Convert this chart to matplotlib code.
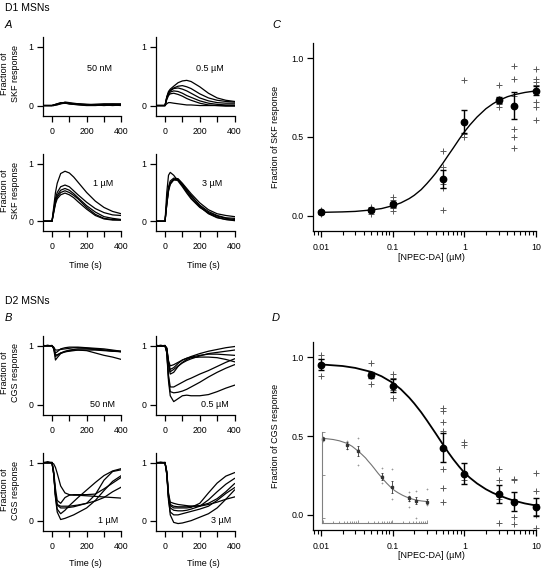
import matplotlib
matplotlib.use('Agg')
import matplotlib.pyplot as plt
from matplotlib.ticker import LogLocator, NullFormatter

plt.rcParams['font.family'] = ['Liberation Sans', 'DejaVu Sans']

# time axis of the traces (s)
t_pts = [-50, -25, 0, 10, 20, 30, 50, 75, 100, 125, 150, 200, 250, 300, 350, 400]

# D1 MSNs, fraction of SKF response
skf_50nM = [
    [0, 0, 0, 0.01, 0.02, 0.03, 0.05, 0.05, 0.04, 0.03, 0.03, 0.02, 0.02, 0.02, 0.02, 0.02],
    [0, 0, 0, 0.01, 0.01, 0.02, 0.04, 0.04, 0.03, 0.03, 0.02, 0.01, 0.01, 0.01, 0.02, 0.01],
    [0, 0, 0, 0.0, 0.01, 0.02, 0.03, 0.06, 0.05, 0.04, 0.03, 0.02, 0.01, 0.0, 0.01, 0.0],
    [0, 0, 0, 0.0, 0.01, 0.01, 0.03, 0.04, 0.03, 0.02, 0.02, 0.01, 0.02, 0.03, 0.03, 0.03],
    [0, 0, 0, 0.01, 0.02, 0.03, 0.04, 0.05, 0.03, 0.02, 0.01, 0.0, 0.0, 0.01, 0.0, 0.01],
]
skf_05uM = [
    [0, 0, 0, 0.15, 0.24, 0.28, 0.33, 0.39, 0.42, 0.43, 0.41, 0.32, 0.21, 0.13, 0.09, 0.07],
    [0, 0, 0, 0.14, 0.22, 0.26, 0.30, 0.33, 0.34, 0.32, 0.29, 0.20, 0.13, 0.09, 0.07, 0.06],
    [0, 0, 0, 0.13, 0.21, 0.25, 0.29, 0.30, 0.28, 0.25, 0.21, 0.13, 0.08, 0.05, 0.04, 0.04],
    [0, 0, 0, 0.12, 0.19, 0.23, 0.25, 0.24, 0.21, 0.17, 0.14, 0.08, 0.04, 0.02, 0.01, 0.01],
    [0, 0, 0, 0.10, 0.17, 0.20, 0.21, 0.19, 0.16, 0.12, 0.09, 0.04, 0.01, 0.0, -0.01, -0.01],
    [0, 0, 0, 0.03, 0.05, 0.05, 0.04, 0.03, 0.02, 0.01, 0.01, 0.0, 0.0, 0.0, 0.0, 0.0],
]
skf_1uM = [
    [0, 0, 0, 0.25, 0.50, 0.66, 0.83, 0.87, 0.84, 0.77, 0.68, 0.50, 0.35, 0.24, 0.17, 0.13],
    [0, 0, 0, 0.20, 0.40, 0.50, 0.60, 0.63, 0.60, 0.53, 0.46, 0.33, 0.22, 0.15, 0.11, 0.10],
    [0, 0, 0, 0.18, 0.35, 0.45, 0.54, 0.57, 0.54, 0.48, 0.41, 0.27, 0.16, 0.08, 0.05, 0.03],
    [0, 0, 0, 0.17, 0.33, 0.42, 0.50, 0.53, 0.50, 0.45, 0.39, 0.24, 0.12, 0.05, 0.03, 0.02],
    [0, 0, 0, 0.15, 0.30, 0.39, 0.46, 0.49, 0.46, 0.41, 0.34, 0.21, 0.10, 0.04, 0.02, 0.02],
]
skf_3uM = [
    [0, 0, 0, 0.50, 0.80, 0.85, 0.80, 0.70, 0.60, 0.49, 0.39, 0.24, 0.15, 0.09, 0.05, 0.03],
    [0, 0, 0, 0.35, 0.60, 0.70, 0.75, 0.74, 0.66, 0.57, 0.48, 0.32, 0.20, 0.13, 0.10, 0.08],
    [0, 0, 0, 0.30, 0.55, 0.67, 0.73, 0.72, 0.63, 0.53, 0.44, 0.28, 0.17, 0.10, 0.06, 0.05],
    [0, 0, 0, 0.30, 0.55, 0.66, 0.72, 0.71, 0.62, 0.51, 0.41, 0.25, 0.13, 0.06, 0.03, 0.02],
    [0, 0, 0, 0.28, 0.52, 0.64, 0.72, 0.73, 0.65, 0.55, 0.45, 0.27, 0.14, 0.07, 0.03, 0.01],
]

# D2 MSNs, fraction of CGS response
cgs_50nM = [
    [1, 1.01, 1, 0.95, 0.76, 0.80, 0.87, 0.90, 0.92, 0.93, 0.93, 0.92, 0.88, 0.84, 0.81, 0.77],
    [1, 1, 1.01, 0.97, 0.88, 0.90, 0.95, 0.97, 0.98, 0.98, 0.98, 0.97, 0.96, 0.95, 0.93, 0.91],
    [1.01, 1, 1, 0.96, 0.85, 0.85, 0.88, 0.91, 0.93, 0.94, 0.95, 0.95, 0.94, 0.93, 0.92, 0.90],
    [1, 1, 1, 0.98, 0.93, 0.93, 0.94, 0.95, 0.96, 0.97, 0.97, 0.96, 0.95, 0.93, 0.91, 0.90],
    [1, 1.01, 1, 0.96, 0.82, 0.84, 0.88, 0.90, 0.91, 0.92, 0.93, 0.93, 0.93, 0.92, 0.91, 0.91],
]
cgs_05uM = [
    [1, 1.01, 1, 0.97, 0.75, 0.66, 0.68, 0.72, 0.76, 0.79, 0.82, 0.87, 0.91, 0.94, 0.97, 0.99],
    [1, 1, 1.01, 0.95, 0.70, 0.56, 0.60, 0.66, 0.71, 0.75, 0.78, 0.83, 0.87, 0.89, 0.91, 0.93],
    [1.01, 1, 1, 0.96, 0.72, 0.60, 0.63, 0.70, 0.76, 0.79, 0.81, 0.84, 0.86, 0.86, 0.85, 0.84],
    [1, 1, 1, 0.95, 0.68, 0.52, 0.55, 0.65, 0.72, 0.77, 0.80, 0.81, 0.81, 0.80, 0.77, 0.73],
    [1, 1.01, 1, 0.90, 0.50, 0.30, 0.30, 0.34, 0.38, 0.42, 0.45, 0.52, 0.58, 0.65, 0.72, 0.78],
    [1, 1, 1, 0.90, 0.45, 0.22, 0.20, 0.21, 0.23, 0.26, 0.30, 0.38, 0.47, 0.55, 0.62, 0.68],
    [1.01, 1, 1, 0.88, 0.40, 0.15, 0.05, 0.10, 0.15, 0.16, 0.15, 0.15, 0.17, 0.22, 0.28, 0.33],
]
cgs_1uM = [
    [1, 1.02, 1, 0.98, 0.92, 0.82, 0.60, 0.48, 0.45, 0.44, 0.44, 0.43, 0.42, 0.41, 0.40, 0.39],
    [1, 1, 1.01, 0.80, 0.40, 0.15, 0.02, 0.04, 0.07, 0.10, 0.14, 0.22, 0.35, 0.52, 0.68, 0.78],
    [1.01, 1, 1, 0.80, 0.42, 0.20, 0.12, 0.18, 0.26, 0.33, 0.40, 0.53, 0.66, 0.78, 0.86, 0.90],
    [1, 1, 1, 0.80, 0.45, 0.28, 0.25, 0.25, 0.25, 0.26, 0.27, 0.30, 0.45, 0.70, 0.85, 0.88],
    [1, 1.01, 1, 0.82, 0.45, 0.27, 0.22, 0.22, 0.23, 0.24, 0.26, 0.30, 0.34, 0.40, 0.50, 0.58],
    [1, 1, 1, 0.85, 0.55, 0.35, 0.30, 0.40, 0.44, 0.45, 0.45, 0.45, 0.46, 0.55, 0.65, 0.75],
]
cgs_3uM = [
    [1, 1.01, 1, 0.85, 0.40, 0.10, -0.03, -0.05, -0.04, -0.02, 0.0, 0.06, 0.12, 0.22, 0.37, 0.53],
    [1, 1, 1.01, 0.80, 0.35, 0.15, 0.10, 0.10, 0.12, 0.14, 0.16, 0.20, 0.25, 0.35, 0.47, 0.57],
    [1.01, 1, 1, 0.80, 0.40, 0.22, 0.18, 0.17, 0.17, 0.18, 0.20, 0.25, 0.36, 0.50, 0.63, 0.73],
    [1, 1, 1, 0.82, 0.42, 0.26, 0.22, 0.22, 0.22, 0.22, 0.23, 0.30, 0.48, 0.65, 0.77, 0.83],
    [1, 1.01, 1, 0.85, 0.48, 0.32, 0.30, 0.28, 0.27, 0.26, 0.25, 0.25, 0.28, 0.32, 0.37, 0.41],
    [1, 1, 1, 0.83, 0.45, 0.28, 0.25, 0.24, 0.24, 0.24, 0.25, 0.26, 0.30, 0.38, 0.50, 0.64],
]

# concentration-response data
conc = [0.01, 0.05, 0.1, 0.5, 1, 3, 5, 10]
skf_mean = [0.023, 0.036, 0.074, 0.233, 0.598, 0.734, 0.698, 0.793]
skf_sem = [0.01, 0.01, 0.017, 0.055, 0.07, 0.02, 0.085, 0.03]
skf_cells = [
    [0.01, 0.02, 0.03, 0.04],
    [0.015, 0.03, 0.04, 0.055],
    [0.03, 0.05, 0.07, 0.10, 0.12],
    [0.04, 0.18, 0.20, 0.31, 0.41],
    [0.50, 0.52, 0.86],
    [0.69, 0.71, 0.74, 0.83],
    [0.43, 0.50, 0.55, 0.76, 0.87, 0.95],
    [0.61, 0.69, 0.72, 0.79, 0.83, 0.85, 0.87, 0.93],
]
cgs_mean = [0.951, 0.887, 0.819, 0.427, 0.261, 0.134, 0.085, 0.051]
cgs_sem = [0.034, 0.017, 0.04, 0.094, 0.067, 0.056, 0.06, 0.058]
cgs_cells = [
    [0.88, 0.96, 0.99, 1.01],
    [0.83, 0.88, 0.96],
    [0.74, 0.79, 0.87, 0.89],
    [0.08, 0.17, 0.29, 0.53, 0.59, 0.66, 0.68],
    [0.22, 0.44, 0.46],
    [-0.05, 0.10, 0.13, 0.22, 0.29],
    [-0.06, -0.01, 0.10, 0.22, 0.23],
    [-0.085, 0.0, 0.07, 0.15, 0.265],
]
inset_mean = [0.926, 0.848, 0.782, 0.478, 0.362, 0.226, 0.198, 0.187]
inset_sem = [0.02, 0.04, 0.06, 0.04, 0.07, 0.03, 0.04, 0.03]
inset_cells = [
    [0.90, 0.95],
    [0.80, 0.86, 0.90],
    [0.62, 0.80, 0.93],
    [0.40, 0.50, 0.58],
    [0.22, 0.35, 0.57],
    [0.12, 0.20, 0.25, 0.30],
    [-0.01, 0.18, 0.31],
    [0.15, 0.20, 0.34],
]

# fitted curves
fit_x = [0.01, 0.02, 0.03, 0.05, 0.07, 0.1, 0.13, 0.17, 0.2, 0.25, 0.3, 0.35, 0.4, 0.5, 0.6, 0.7, 0.85,
         1, 1.2, 1.5, 2, 2.5, 3, 4, 5, 7, 10]
skf_fit = [0.023, 0.026, 0.029, 0.038, 0.047, 0.065, 0.083, 0.11, 0.131, 0.167, 0.205, 0.24, 0.272,
           0.333, 0.386, 0.43, 0.487, 0.532, 0.577, 0.626, 0.679, 0.71, 0.731, 0.755, 0.768, 0.782, 0.792]
cgs_fit = [0.953, 0.943, 0.931, 0.906, 0.878, 0.837, 0.796, 0.743, 0.706, 0.65, 0.599, 0.554, 0.515,
           0.448, 0.395, 0.353, 0.305, 0.268, 0.235, 0.2, 0.163, 0.14, 0.125, 0.104, 0.09, 0.073, 0.06]
inset_fit = [0.93, 0.915, 0.9, 0.87, 0.835, 0.785, 0.745, 0.7, 0.665, 0.62, 0.58, 0.545, 0.515, 0.47,
             0.432, 0.402, 0.368, 0.34, 0.315, 0.29, 0.262, 0.244, 0.232, 0.215, 0.205, 0.195, 0.188]

W, H = 541, 568
fig = plt.figure(figsize=(W / 100, H / 100), dpi=100)


def box(x0, y0, x1, y1):
    return fig.add_axes([x0 / W, 1 - y1 / H, (x1 - x0) / W, (y1 - y0) / H])


def style(ax):
    ax.spines['top'].set_visible(False)
    ax.spines['right'].set_visible(False)
    ax.spines['left'].set_linewidth(0.9)
    ax.spines['bottom'].set_linewidth(0.9)
    ax.tick_params(direction='out', length=4, width=0.9, labelsize=6.3)
    ax.tick_params(axis='x', pad=4)
    ax.tick_params(axis='y', pad=3)


def trace_panel(ax, traces, label, lx, ly, ha):
    style(ax)
    for tr in traces:
        ax.plot(t_pts, tr, color='k', lw=0.9)
    ax.set_xlim(-52, 400)
    ax.set_ylim(-0.17, 1.17)
    ax.set_xticks([0, 100, 200, 300, 400])
    ax.set_xticklabels(['0', '', '200', '', '400'])
    ax.set_yticks([0, 1])
    ax.text(lx, ly, label, ha=ha, va='center', fontsize=6.5)


# panel A
trace_panel(box(43, 37, 121.3, 115.5), skf_50nM, '50 nM', 277, 0.64, 'center')
trace_panel(box(156, 37, 234.5, 115.5), skf_05uM, '0.5 µM', 259, 0.64, 'center')
trace_panel(box(43, 154, 121.3, 231), skf_1uM, '1 µM', 296, 0.65, 'center')
trace_panel(box(156, 154, 234.5, 231), skf_3uM, '3 µM', 269, 0.65, 'center')

# panel B
trace_panel(box(43, 336, 121.3, 414.5), cgs_50nM, '50 nM', 365, 0.0, 'right')
trace_panel(box(156, 336, 234.5, 414.5), cgs_05uM, '0.5 µM', 365, 0.0, 'right')
trace_panel(box(43, 453, 121.3, 530.5), cgs_1uM, '1 µM', 385, 0.0, 'right')
trace_panel(box(156, 453, 234.5, 530.5), cgs_3uM, '3 µM', 380, 0.0, 'right')


def log_minor(ax):
    ax.xaxis.set_minor_locator(LogLocator(base=10, subs=[2, 3, 4, 5, 6, 7, 8, 9], numticks=20))
    ax.xaxis.set_minor_formatter(NullFormatter())


def dose_panel(ax, mean, sem, cells, fit, fit_lw):
    style(ax)
    ax.set_xscale('log')
    ax.plot(fit_x, fit, color='k', lw=fit_lw, zorder=2)
    for c, vals in zip(conc, cells):
        ax.plot([c] * len(vals), vals, '+', color='0.35', ms=5, mew=0.7, clip_on=False, zorder=1)
    ax.errorbar(conc, mean, yerr=sem, fmt='o', color='k', ms=4.6, capsize=2.2,
                elinewidth=1, capthick=1, zorder=3, clip_on=False)
    ax.set_xlim(0.00773, 10)
    ax.set_ylim(-0.095, 1.095)
    ax.set_xticks([0.01, 0.1, 1, 10])
    ax.set_xticklabels(['0.01', '0.1', '1', '10'])
    log_minor(ax)
    ax.set_yticks([0, 0.5, 1.0])
    ax.set_yticklabels(['0.0', '0.5', '1.0'])
    ax.tick_params(axis='x', which='major', length=4.5)
    ax.tick_params(axis='x', which='minor', direction='out', length=3, width=0.8)


axC = box(313, 43, 536, 231)
dose_panel(axC, skf_mean, skf_sem, skf_cells, skf_fit, 1.0)
axD = box(313, 342, 536, 530)
dose_panel(axD, cgs_mean, cgs_sem, cgs_cells, cgs_fit, 1.3)

# inset in D
axI = box(321.7, 432.3, 427, 522.7)
axI.set_facecolor('none')
axI.set_xscale('log')
for s in ['top', 'right']:
    axI.spines[s].set_visible(False)
for s in ['left', 'bottom']:
    axI.spines[s].set_color('0.5')
    axI.spines[s].set_linewidth(0.8)
axI.plot(fit_x, inset_fit, color='0.45', lw=0.8)
for c, vals in zip(conc, inset_cells):
    axI.plot([c] * len(vals), vals, '+', color='0.6', ms=2, mew=0.5, clip_on=False)
axI.errorbar(conc, inset_mean, yerr=inset_sem, fmt='s', color='0.2', ms=1.5, capsize=1,
             elinewidth=0.6, capthick=0.6, clip_on=False)
axI.set_xlim(0.0092, 10.2)
axI.set_ylim(-0.06, 1.0)
axI.set_yticks([0, 0.5, 1.0])
axI.set_xticks([0.01, 0.1, 1, 10])
log_minor(axI)
axI.tick_params(which='both', direction='in', length=2.2, width=0.6, color='0.5',
                labelleft=False, labelbottom=False)
axI.tick_params(which='minor', length=1.6)

# labels
fs = 6.5
fig.text(5 / W, 1 - 8 / H, 'D1 MSNs', fontsize=7.5, va='center')
fig.text(5 / W, 1 - 25 / H, 'A', fontsize=8, style='italic', va='center')
fig.text(272 / W, 1 - 25 / H, 'C', fontsize=8, style='italic', va='center')
fig.text(5 / W, 1 - 301 / H, 'D2 MSNs', fontsize=7.5, va='center')
fig.text(5 / W, 1 - 318 / H, 'B', fontsize=8, style='italic', va='center')
fig.text(272 / W, 1 - 318 / H, 'D', fontsize=8, style='italic', va='center')

for yc, txt in [(74, 'Fraction of\nSKF response'), (191, 'Fraction of\nSKF response'),
                (373, 'Fraction of\nCGS response'), (490, 'Fraction of\nCGS response')]:
    fig.text(10 / W, 1 - yc / H, txt, rotation=90, ha='center', va='center', fontsize=fs,
             linespacing=1.15)

for xc, yc in [(85, 266), (203, 266), (85, 563), (203, 563)]:
    fig.text(xc / W, 1 - yc / H, 'Time (s)', ha='center', va='center', fontsize=fs)

fig.text(275 / W, 1 - 137 / H, 'Fraction of SKF response', rotation=90, ha='center', va='center', fontsize=fs)
fig.text(275 / W, 1 - 436 / H, 'Fraction of CGS response', rotation=90, ha='center', va='center', fontsize=fs)
fig.text(431 / W, 1 - 258 / H, '[NPEC-DA] (µM)', ha='center', va='center', fontsize=fs)
fig.text(431 / W, 1 - 555 / H, '[NPEC-DA] (µM)', ha='center', va='center', fontsize=fs)

fig.savefig('out.png', dpi=100)
